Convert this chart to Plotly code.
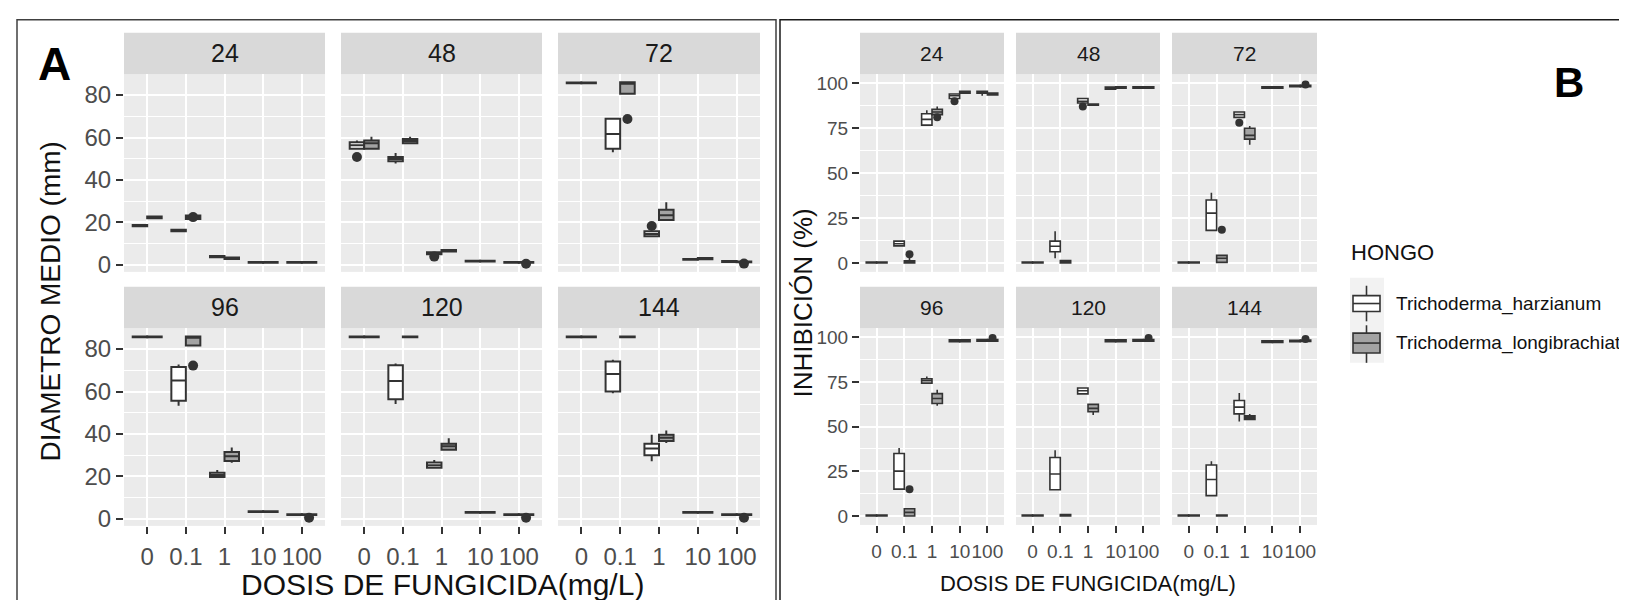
import plotly.graph_objects as go

W, H = 1627, 600

HOURS = ["24", "48", "72", "96", "120", "144"]
DOSES = ["0", "0.1", "1", "10", "100"]
SPECIES = ["Trichoderma_harzianum", "Trichoderma_longibrachiatum"]

# ---------------- Panel A: DIAMETRO MEDIO (mm) ----------------
diam_harz_med = [[18.5, 16.2, 3.9, 1.2, 1.2], [56.3, 49.9, 5.5, 1.8, 1.2], [85.7, 61.6, 14.6, 2.6, 1.6],
                 [85.7, 65.2, 20.7, 3.4, 2.0], [85.7, 64.9, 25.3, 3.1, 2.0], [85.7, 68.3, 33.1, 3.1, 2.0]]
diam_harz_q1 = [[18.2, 15.8, 3.6, 1.0, 1.0], [54.7, 48.8, 5.0, 1.6, 1.0], [85.5, 54.7, 13.5, 2.4, 1.4],
                [85.5, 55.6, 19.7, 3.2, 1.8], [85.5, 56.4, 24.1, 2.9, 1.8], [85.5, 60.0, 30.0, 2.9, 1.8]]
diam_harz_q3 = [[18.8, 16.6, 4.2, 1.4, 1.4], [57.8, 50.8, 6.0, 2.0, 1.4], [85.9, 68.8, 15.8, 2.8, 1.8],
                [85.9, 71.5, 21.7, 3.6, 2.2], [85.9, 72.4, 26.6, 3.3, 2.2], [85.9, 74.1, 35.4, 3.3, 2.2]]
diam_harz_lo = [[18.2, 15.8, 3.6, 1.0, 1.0], [54.7, 47.7, 5.0, 1.6, 1.0], [85.5, 53.0, 13.5, 2.4, 1.4],
                [85.5, 53.3, 19.7, 3.2, 1.8], [85.5, 54.1, 24.1, 2.9, 1.8], [85.5, 59.2, 27.2, 2.9, 1.8]]
diam_harz_hi = [[18.8, 16.6, 4.2, 1.4, 1.4], [58.6, 52.7, 6.0, 2.0, 1.4], [85.9, 68.8, 15.8, 2.8, 1.8],
                [85.9, 72.7, 23.0, 3.6, 2.2], [85.9, 73.2, 27.7, 3.3, 2.2], [85.9, 75.0, 39.6, 3.3, 2.2]]
diam_harz_out = [(1, 0, 50.8), (1, 2, 3.9), (2, 2, 18.3)]

diam_long_med = [[22.4, 22.4, 3.1, 1.2, 1.2], [57.3, 58.4, 6.8, 1.8, 1.2], [85.7, 85.3, 23.4, 3.0, 1.4],
                 [85.7, 85.3, 29.5, 3.4, 2.0], [85.7, 85.7, 34.2, 3.1, 2.0], [85.7, 85.7, 38.2, 3.1, 2.0]]
diam_long_q1 = [[22.0, 21.6, 2.8, 1.0, 1.0], [54.7, 57.3, 6.3, 1.6, 1.0], [85.5, 80.6, 21.1, 2.7, 1.2],
                [85.5, 81.7, 27.3, 3.2, 1.8], [85.5, 85.5, 32.6, 2.9, 1.8], [85.5, 85.5, 36.7, 2.9, 1.8]]
diam_long_q3 = [[22.8, 23.3, 3.5, 1.4, 1.4], [58.6, 59.3, 7.0, 2.0, 1.4], [85.9, 86.0, 26.0, 3.2, 1.6],
                [85.9, 85.9, 31.5, 3.6, 2.2], [85.9, 85.9, 35.4, 3.3, 2.2], [85.9, 85.9, 39.6, 3.3, 2.2]]
diam_long_lo = [[22.0, 21.6, 2.8, 1.0, 1.0], [54.7, 57.3, 6.3, 1.6, 1.0], [85.5, 80.6, 21.1, 2.7, 1.2],
                [85.5, 81.7, 26.4, 3.2, 1.8], [85.5, 85.5, 32.6, 2.9, 1.8], [85.5, 85.5, 35.7, 2.9, 1.8]]
diam_long_hi = [[22.8, 23.3, 3.5, 1.4, 1.4], [60.4, 60.4, 7.0, 2.0, 1.4], [85.9, 86.0, 29.5, 3.2, 1.6],
                [85.9, 85.9, 33.6, 3.6, 2.2], [85.9, 85.9, 38.0, 3.3, 2.2], [85.9, 85.9, 41.6, 3.3, 2.2]]
diam_long_out = [(0, 1, 22.5), (1, 4, 0.5), (2, 1, 68.7), (2, 4, 0.6), (3, 1, 72.2), (3, 4, 0.5),
                 (4, 4, 0.5), (5, 4, 0.5)]

# ---------------- Panel B: INHIBICION (%) ----------------
inh_harz_med = [[0, 10.7, 79.9, 93.0, 95.0], [0, 9.3, 90.0, 97.3, 97.6], [0, 27.7, 82.5, 97.6, 98.5],
                [0, 25.1, 75.6, 98.0, 98.2], [0, 23.5, 70.0, 98.0, 98.2], [0, 20.4, 60.9, 97.5, 97.8]]
inh_harz_q1 = [[0, 9.5, 76.7, 91.5, 94.5], [0, 6.2, 89.0, 96.7, 97.2], [0, 18.1, 81.0, 97.2, 98.1],
               [0, 15.0, 74.3, 97.5, 97.8], [0, 14.7, 68.3, 97.5, 97.8], [0, 11.4, 57.1, 97.0, 97.4]]
inh_harz_q3 = [[0.5, 12.1, 83.0, 94.0, 95.5], [0.5, 12.1, 91.5, 97.8, 98.0], [0.5, 35.0, 84.0, 98.0, 98.9],
               [0.5, 34.9, 76.7, 98.5, 98.6], [0.5, 32.7, 71.6, 98.5, 98.6], [0.5, 28.5, 64.6, 98.0, 98.2]]
inh_harz_lo = [[0, 9.5, 76.7, 91.5, 93.0], [0, 2.6, 89.0, 96.7, 97.2], [0, 18.1, 81.0, 97.2, 98.1],
               [0, 15.0, 74.3, 97.5, 97.8], [0, 14.7, 68.3, 97.5, 97.8], [0, 11.4, 52.9, 97.0, 97.4]]
inh_harz_hi = [[0.5, 12.1, 85.0, 94.0, 95.5], [0.5, 17.6, 91.8, 97.8, 98.0], [0.5, 39.0, 84.0, 98.0, 98.9],
               [0.5, 38.0, 78.0, 98.5, 98.6], [0.5, 36.7, 71.6, 98.5, 98.6], [0.5, 30.6, 68.8, 98.0, 98.2]]
inh_harz_out = [(0, 3, 90.0), (1, 2, 87.0), (2, 2, 78.0)]

inh_long_med = [[0, 0.5, 84.0, 95.0, 94.0], [0, 0.6, 88.1, 97.6, 97.6], [0, 2.6, 71.0, 97.6, 98.5],
                [0, 2.0, 65.7, 98.0, 98.2], [0, 0.4, 60.2, 98.0, 98.2], [0, 0.2, 55.0, 97.5, 98.0]]
inh_long_q1 = [[0, 0, 82.5, 94.5, 93.5], [0, 0, 87.8, 97.2, 97.2], [0, 0.3, 68.9, 97.2, 98.1],
               [0, 0, 62.9, 97.5, 97.8], [0, 0, 58.3, 97.5, 97.8], [0, 0, 54.0, 97.0, 97.6]]
inh_long_q3 = [[0.5, 1.2, 85.5, 95.5, 94.5], [0.5, 1.3, 88.4, 98.0, 98.0], [0.5, 4.2, 74.9, 98.0, 98.9],
               [0.5, 4.0, 68.4, 98.5, 98.6], [0.5, 0.8, 62.4, 98.5, 98.6], [0.5, 0.5, 56.0, 98.0, 98.4]]
inh_long_lo = [[0, 0, 82.5, 94.5, 93.5], [0, 0, 87.8, 97.2, 97.2], [0, 0.3, 65.8, 97.2, 98.1],
               [0, 0, 61.7, 97.5, 97.8], [0, 0, 56.5, 97.5, 97.8], [0, 0, 53.5, 97.0, 97.6]]
inh_long_hi = [[0.5, 3.0, 87.0, 95.5, 94.5], [0.5, 1.3, 88.4, 98.0, 98.0], [0.5, 4.2, 76.2, 98.0, 98.9],
               [0.5, 4.0, 70.6, 98.5, 98.6], [0.5, 0.8, 62.4, 98.5, 98.6], [0.5, 0.5, 57.0, 98.0, 98.4]]
inh_long_out = [(0, 1, 4.8), (0, 2, 81.0), (2, 1, 18.5), (2, 4, 99.3), (3, 1, 15.0), (3, 4, 99.6),
                (4, 4, 99.6), (5, 4, 99.0)]

# ---------------- styling / layout helpers ----------------
def px(x):
    return x / W


def py(y):
    return 1 - y / H


FILLS = ["#FFFFFF", "#A3A3A3"]
OUTLINE = "#333333"
FONT = "Liberation Sans, Arial, sans-serif"

PANELS = [
    dict(cols=[(116, 317), (333, 534), (550, 752)], rows=[(66, 266), (323, 523)],
         strips=[(24, 66), (281, 323)], yrange=[-3.3, 89.8], dtick=20, minor=10,
         tick=24, strip=25, lw=2.0, ms=10,
         stats=[(diam_harz_q1, diam_harz_med, diam_harz_q3, diam_harz_lo, diam_harz_hi, diam_harz_out),
                (diam_long_q1, diam_long_med, diam_long_q3, diam_long_lo, diam_long_hi, diam_long_out)]),
    dict(cols=[(852, 996), (1008, 1152), (1164, 1309)], rows=[(66, 266), (323, 522)],
         strips=[(24, 66), (281, 323)], yrange=[-5, 105], dtick=25, minor=12.5,
         tick=19, strip=21, lw=1.6, ms=8,
         stats=[(inh_harz_q1, inh_harz_med, inh_harz_q3, inh_harz_lo, inh_harz_hi, inh_harz_out),
                (inh_long_q1, inh_long_med, inh_long_q3, inh_long_lo, inh_long_hi, inh_long_out)]),
]

DODGE = 0.75 / 4  # half of each dodged box width (ggplot default width 0.75)
BOXW = 0.75 / 2

fig = go.Figure()
layout_axes = {}
shapes = []
annotations = []

k = 0
for p, P in enumerate(PANELS):
    for h, hour in enumerate(HOURS):
        k += 1
        row, col = h // 3, h % 3
        xa = "x" if k == 1 else f"x{k}"
        ya = "y" if k == 1 else f"y{k}"
        xkey = "xaxis" if k == 1 else f"xaxis{k}"
        ykey = "yaxis" if k == 1 else f"yaxis{k}"
        x0, x1 = P["cols"][col]
        y0, y1 = P["rows"][row]
        s0, s1 = P["strips"][row]

        for s in range(2):
            q1, med, q3, lo, hi, outs = P["stats"][s]
            off = -DODGE if s == 0 else DODGE
            pos = [i + 1 + off for i in range(len(DOSES))]
            fig.add_trace(go.Box(
                x=pos, q1=q1[h], median=med[h], q3=q3[h], lowerfence=lo[h], upperfence=hi[h],
                width=BOXW, fillcolor=FILLS[s], line=dict(color=OUTLINE, width=P["lw"]),
                whiskerwidth=0, boxpoints=False, name=SPECIES[s], showlegend=False,
                xaxis=xa, yaxis=ya))
            ox = [d + 1 + off for (hh, d, v) in outs if hh == h]
            oy = [v for (hh, d, v) in outs if hh == h]
            if ox:
                fig.add_trace(go.Scatter(
                    x=ox, y=oy, mode="markers", showlegend=False,
                    marker=dict(size=P["ms"], color=OUTLINE), xaxis=xa, yaxis=ya))

        layout_axes[xkey] = dict(
            domain=[px(x0), px(x1)], range=[0.4, 5.6], anchor=ya,
            tickmode="array", tickvals=[1, 2, 3, 4, 5], ticktext=DOSES, tickangle=0,
            showticklabels=(row == 1), ticks="outside" if row == 1 else "",
            ticklen=7, tickwidth=2, tickcolor=OUTLINE, ticklabelstandoff=2,
            tickfont=dict(family=FONT, size=P["tick"], color="#4D4D4D"),
            showgrid=True, gridcolor="white", gridwidth=2, zeroline=False, showline=False,
            fixedrange=True)
        layout_axes[ykey] = dict(
            domain=[py(y1), py(y0)], range=P["yrange"], anchor=xa,
            tickmode="linear", tick0=0, dtick=P["dtick"], tickangle=0,
            showticklabels=(col == 0), ticks="outside" if col == 0 else "",
            ticklen=7, tickwidth=2, tickcolor=OUTLINE,
            tickfont=dict(family=FONT, size=P["tick"], color="#4D4D4D"),
            showgrid=True, gridcolor="white", gridwidth=2, zeroline=False, showline=False,
            minor=dict(tickmode="linear", tick0=0, dtick=P["minor"], showgrid=True,
                       gridcolor="white", gridwidth=1, ticks=""),
            fixedrange=True)

        # strip
        shapes.append(dict(type="rect", xref="paper", yref="paper", x0=px(x0), x1=px(x1),
                           y0=py(s1), y1=py(s0), fillcolor="#D9D9D9", line=dict(width=0), layer="below"))
        annotations.append(dict(text=hour, xref="paper", yref="paper", x=px((x0 + x1) / 2),
                                y=py((s0 + s1) / 2), xanchor="center", yanchor="middle", showarrow=False,
                                font=dict(family=FONT, size=P["strip"], color="#1A1A1A")))

# Panel frames
shapes.append(dict(type="rect", xref="paper", yref="paper", x0=px(9), x1=px(768), y0=-0.05, y1=py(11),
                   line=dict(color="#404040", width=1.5), fillcolor="rgba(0,0,0,0)"))
shapes.append(dict(type="rect", xref="paper", yref="paper", x0=px(772), x1=1.05, y0=-0.05, y1=py(11),
                   line=dict(color="#1A1A1A", width=1.5), fillcolor="rgba(0,0,0,0)"))

# Axis titles
annotations += [
    dict(text="DIAMETRO MEDIO (mm)", xref="paper", yref="paper", x=px(43), y=py(296), textangle=-90,
         showarrow=False, xanchor="center", yanchor="middle", font=dict(family=FONT, size=28, color="#111111")),
    dict(text="DOSIS DE FUNGICIDA(mg/L)", xref="paper", yref="paper", x=px(434), y=py(582),
         showarrow=False, xanchor="center", yanchor="middle", font=dict(family=FONT, size=30, color="#111111")),
    dict(text="INHIBICIÓN (%)", xref="paper", yref="paper", x=px(795), y=py(298), textangle=-90,
         showarrow=False, xanchor="center", yanchor="middle", font=dict(family=FONT, size=26, color="#111111")),
    dict(text="DOSIS DE FUNGICIDA(mg/L)", xref="paper", yref="paper", x=px(1080), y=py(581),
         showarrow=False, xanchor="center", yanchor="middle", font=dict(family=FONT, size=22, color="#111111")),
    dict(text="<b>A</b>", xref="paper", yref="paper", x=px(46), y=py(56), showarrow=False,
         xanchor="center", yanchor="middle", font=dict(family=FONT, size=46, color="black")),
    dict(text="<b>B</b>", xref="paper", yref="paper", x=px(1561), y=py(74), showarrow=False,
         xanchor="center", yanchor="middle", font=dict(family=FONT, size=42, color="black")),
    dict(text="HONGO", xref="paper", yref="paper", x=px(1341), y=py(246), showarrow=False,
         xanchor="left", yanchor="middle", font=dict(family=FONT, size=22, color="#111111")),
]

# Legend (drawn like ggplot keys)
shapes.append(dict(type="rect", xref="paper", yref="paper", x0=px(1342), x1=px(1376), y0=py(358), y1=py(272),
                   fillcolor="#F2F2F2", line=dict(width=0)))
key_rows = [(280, 290, 298, 306, 316), (320, 328, 338, 348, 358)]
for s, (wt, bt, md, bb, wb) in enumerate(key_rows):
    cx = 1358.5
    shapes.append(dict(type="line", xref="paper", yref="paper", x0=px(cx), x1=px(cx), y0=py(wb), y1=py(wt),
                       line=dict(color=OUTLINE, width=1.6)))
    shapes.append(dict(type="rect", xref="paper", yref="paper", x0=px(1345), x1=px(1372), y0=py(bb), y1=py(bt),
                       fillcolor=FILLS[s], line=dict(color=OUTLINE, width=1.6)))
    shapes.append(dict(type="line", xref="paper", yref="paper", x0=px(1345), x1=px(1372), y0=py(md), y1=py(md),
                       line=dict(color=OUTLINE, width=1.6)))
    annotations.append(dict(text=SPECIES[s], xref="paper", yref="paper", x=px(1386), y=py(md), showarrow=False,
                            xanchor="left", yanchor="middle", font=dict(family=FONT, size=19, color="#111111")))

fig.update_layout(
    width=W, height=H, autosize=False, margin=dict(l=0, r=0, t=0, b=0, pad=0),
    paper_bgcolor="white", plot_bgcolor="#EBEBEB", showlegend=False,
    shapes=shapes, annotations=annotations, **layout_axes)

fig.write_html("out.html")
